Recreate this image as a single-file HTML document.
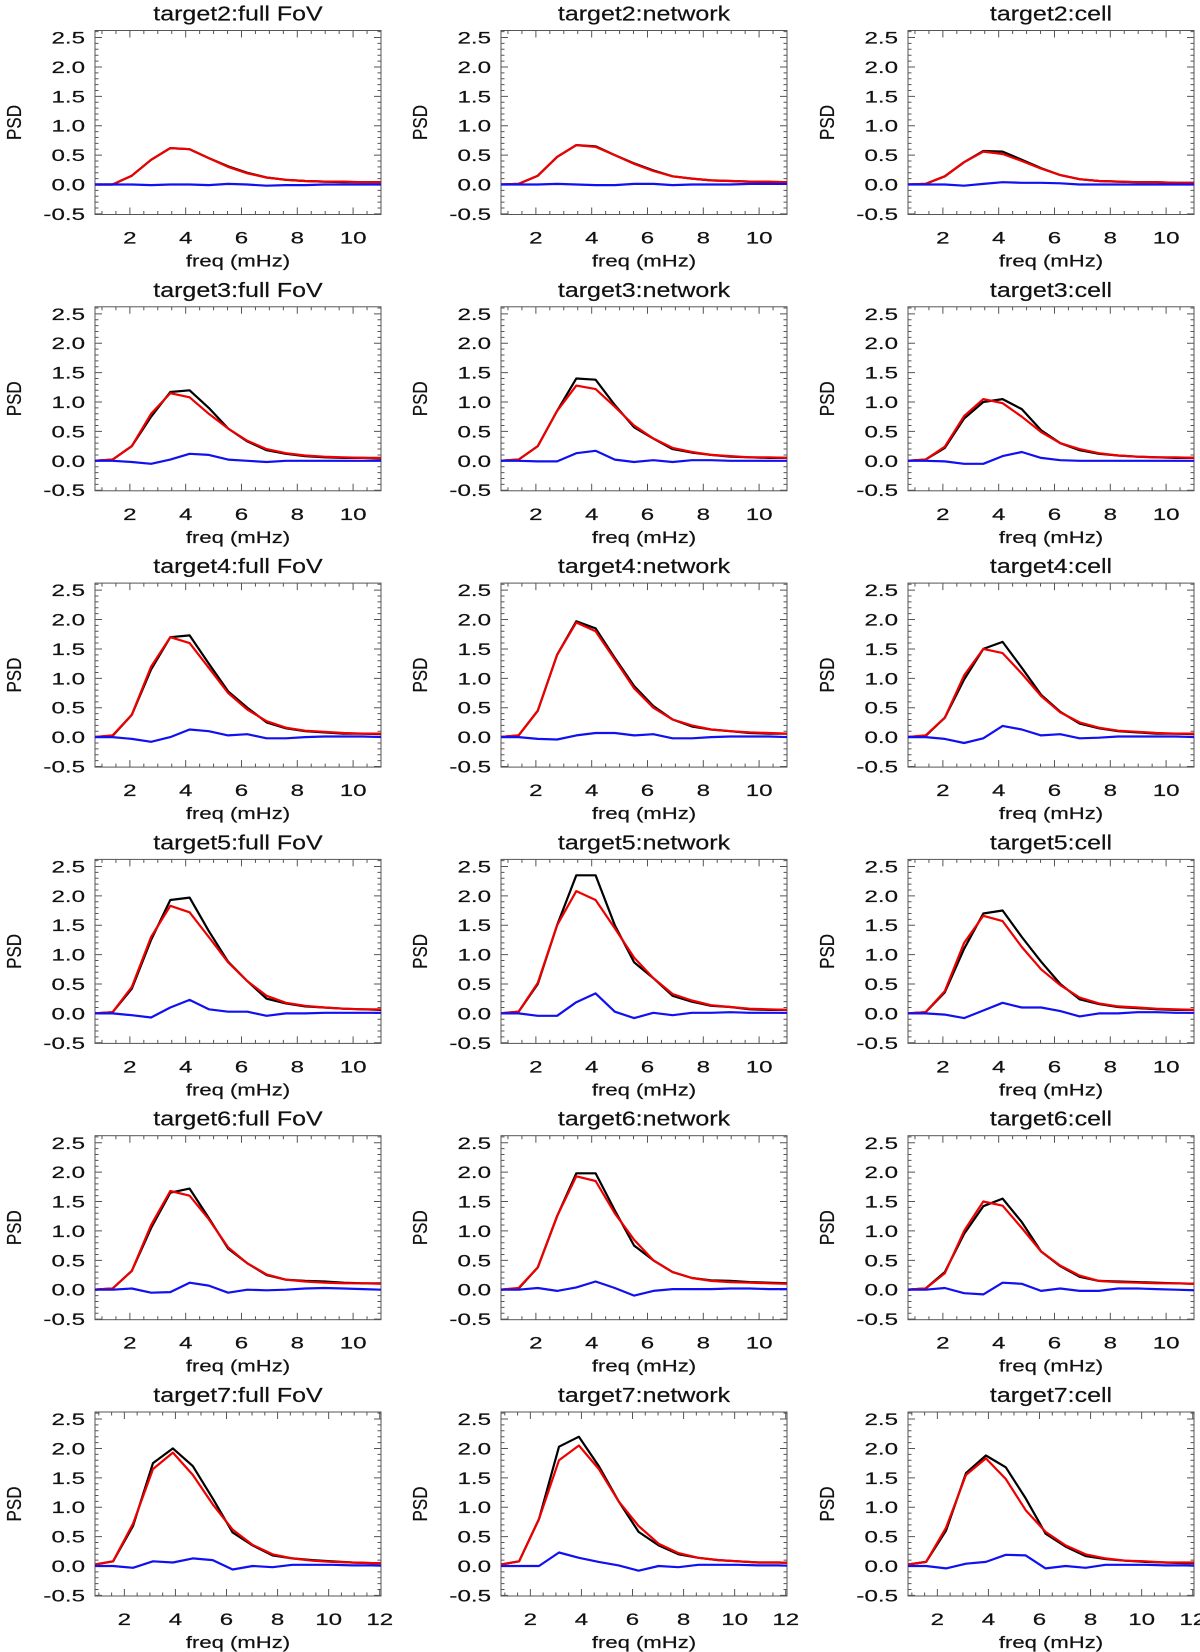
<!DOCTYPE html>
<html><head><meta charset="utf-8">
<style>
html,body{margin:0;padding:0;background:#fff;}
svg{display:block;}
text{font-family:"Liberation Sans",Arial,sans-serif;fill:#111;stroke:#111;stroke-width:0.2px;}
</style></head>
<body>
<svg id="chart" width="1200" height="1652" viewBox="0 0 1200 1652" xmlns="http://www.w3.org/2000/svg"></svg>
<script>
// ---- data ----
const panelTitles = [
 "target2:full FoV","target2:network","target2:cell",
 "target3:full FoV","target3:network","target3:cell",
 "target4:full FoV","target4:network","target4:cell",
 "target5:full FoV","target5:network","target5:cell",
 "target6:full FoV","target6:network","target6:cell",
 "target7:full FoV","target7:network","target7:cell"];
const freqStepRows1to6 = 0.69;
const freqStepRow7 = 0.78;
const yTickLabels = ["-0.5","0.0","0.5","1.0","1.5","2.0","2.5"];
const xTickLabelsA = ["2","4","6","8","10"];
const xTickLabelsB = ["2","4","6","8","10","12"];
const blackSeries = [
 [0,0,0.15,0.42,0.62,0.60,0.45,0.31,0.20,0.12,0.08,0.06,0.05,0.04,0.04,0.04,0.04],
 [0,0.01,0.15,0.47,0.67,0.65,0.5,0.36,0.24,0.14,0.1,0.07,0.06,0.05,0.04,0.04,0.04],
 [0,0.01,0.14,0.38,0.57,0.56,0.42,0.28,0.16,0.09,0.06,0.05,0.04,0.04,0.03,0.03,0.03],
 [0,0.02,0.25,0.75,1.17,1.2,0.9,0.55,0.33,0.18,0.12,0.08,0.06,0.05,0.05,0.04,0.04],
 [0,0.02,0.25,0.85,1.4,1.38,0.95,0.57,0.38,0.2,0.14,0.1,0.07,0.06,0.05,0.05,0.05],
 [0,0.02,0.22,0.72,1.0,1.05,0.88,0.52,0.3,0.18,0.12,0.09,0.07,0.06,0.05,0.05,0.04],
 [0,0.02,0.38,1.15,1.7,1.73,1.25,0.78,0.5,0.25,0.15,0.1,0.08,0.06,0.06,0.05,0.05],
 [0,0.03,0.45,1.4,1.97,1.85,1.35,0.87,0.53,0.3,0.18,0.13,0.1,0.07,0.06,0.06,0.06],
 [0,0.02,0.33,0.98,1.5,1.62,1.18,0.72,0.43,0.23,0.15,0.1,0.08,0.06,0.06,0.05,0.05],
 [0,0.02,0.42,1.25,1.93,1.97,1.4,0.88,0.55,0.25,0.17,0.12,0.1,0.08,0.07,0.06,0.06],
 [0,0.03,0.5,1.5,2.35,2.35,1.5,0.87,0.6,0.3,0.2,0.13,0.11,0.07,0.06,0.06,0.06],
 [0,0.02,0.36,1.1,1.7,1.75,1.3,0.88,0.5,0.24,0.16,0.11,0.09,0.07,0.06,0.06,0.05],
 [0,0.02,0.32,1.05,1.65,1.72,1.22,0.7,0.45,0.25,0.17,0.15,0.14,0.12,0.11,0.11,0.1],
 [0,0.02,0.38,1.25,1.98,1.98,1.35,0.75,0.5,0.3,0.2,0.16,0.15,0.13,0.12,0.11,0.1],
 [0,0.02,0.3,0.95,1.42,1.55,1.15,0.65,0.4,0.22,0.15,0.14,0.13,0.12,0.11,0.1,0.09],
 [0.02,0.08,0.68,1.75,2.0,1.7,1.15,0.57,0.35,0.18,0.13,0.1,0.08,0.06,0.05,0.05],
 [0.02,0.08,0.8,2.03,2.2,1.7,1.1,0.58,0.35,0.2,0.14,0.1,0.08,0.06,0.06,0.05],
 [0.02,0.07,0.6,1.58,1.88,1.68,1.15,0.55,0.33,0.17,0.12,0.09,0.07,0.06,0.05,0.05]];
const redSeries = [
 [0,0,0.15,0.42,0.62,0.60,0.45,0.30,0.19,0.12,0.08,0.06,0.05,0.05,0.04,0.04,0.04],
 [0,0.01,0.15,0.47,0.67,0.64,0.5,0.35,0.23,0.14,0.1,0.07,0.06,0.05,0.05,0.04,0.04],
 [0,0.01,0.14,0.38,0.56,0.52,0.4,0.27,0.16,0.09,0.06,0.05,0.04,0.04,0.03,0.03,0.03],
 [0,0.02,0.25,0.8,1.15,1.08,0.8,0.55,0.34,0.2,0.13,0.09,0.07,0.06,0.05,0.05,0.05],
 [0,0.02,0.25,0.85,1.28,1.22,0.92,0.6,0.38,0.22,0.15,0.1,0.08,0.06,0.06,0.05,0.05],
 [0,0.02,0.24,0.76,1.05,0.98,0.75,0.49,0.3,0.2,0.13,0.09,0.07,0.06,0.06,0.05,0.05],
 [0,0.03,0.38,1.2,1.7,1.6,1.18,0.75,0.47,0.27,0.16,0.11,0.09,0.07,0.06,0.06,0.06],
 [0,0.03,0.45,1.4,1.95,1.8,1.32,0.83,0.5,0.3,0.2,0.13,0.1,0.08,0.07,0.06,0.06],
 [0,0.03,0.33,1.05,1.5,1.43,1.08,0.7,0.42,0.25,0.16,0.11,0.09,0.07,0.06,0.06,0.06],
 [0,0.02,0.45,1.3,1.83,1.72,1.3,0.87,0.55,0.3,0.18,0.13,0.1,0.08,0.07,0.07,0.06],
 [0,0.03,0.52,1.5,2.08,1.93,1.45,0.95,0.6,0.33,0.22,0.14,0.11,0.08,0.07,0.06,0.06],
 [0,0.02,0.38,1.2,1.66,1.57,1.13,0.75,0.48,0.27,0.17,0.12,0.1,0.08,0.07,0.06,0.06],
 [0,0.02,0.32,1.1,1.68,1.6,1.2,0.72,0.45,0.26,0.17,0.14,0.12,0.11,0.11,0.1,0.1],
 [0,0.03,0.38,1.25,1.93,1.85,1.3,0.85,0.5,0.3,0.2,0.15,0.13,0.12,0.11,0.1,0.1],
 [0,0.02,0.28,1.0,1.5,1.43,1.05,0.65,0.41,0.24,0.15,0.13,0.12,0.11,0.11,0.1,0.1],
 [0.02,0.08,0.72,1.65,1.93,1.55,1.05,0.62,0.36,0.2,0.13,0.09,0.07,0.06,0.05,0.05],
 [0.02,0.08,0.8,1.8,2.05,1.65,1.1,0.68,0.38,0.22,0.14,0.1,0.08,0.06,0.06,0.05],
 [0.02,0.07,0.65,1.55,1.83,1.48,0.95,0.58,0.35,0.2,0.13,0.09,0.08,0.06,0.06,0.06]];
const blueSeries = [
 [0,0,0,-0.01,0,0,-0.01,0.01,0,-0.02,-0.01,-0.01,0,0,0,0,0],
 [0,0,0,0.01,0,-0.01,-0.01,0.01,0.01,-0.01,0,0,0,0.01,0.01,0.01,0.01],
 [0,0,0,-0.02,0.01,0.04,0.03,0.03,0.02,0,0,0,0,0,0,0,0],
 [0,0,-0.02,-0.05,0.02,0.12,0.1,0.02,0,-0.02,0,0,0,0,0,0,0],
 [0,0,-0.01,-0.01,0.13,0.17,0.02,-0.02,0.01,-0.02,0.01,0.01,0,0,0,0,0],
 [0,0,-0.01,-0.05,-0.05,0.08,0.15,0.05,0.01,0,0,0,0,0,0,0,0],
 [0,0,-0.03,-0.08,0,0.13,0.1,0.03,0.05,-0.02,-0.02,0,0.01,0.01,0.01,0,0],
 [0,0,-0.03,-0.04,0.03,0.07,0.07,0.03,0.05,-0.02,-0.02,0,0.01,0.01,0.01,0,0],
 [0,0,-0.03,-0.1,-0.02,0.19,0.13,0.03,0.05,-0.02,-0.01,0.01,0.01,0.01,0.01,0,0],
 [0,0,-0.03,-0.07,0.1,0.23,0.07,0.03,0.03,-0.04,0,0,0.01,0.01,0.01,0.01,0.01],
 [0,0,-0.04,-0.04,0.19,0.34,0.03,-0.08,0.01,-0.03,0.01,0.01,0.02,0.01,0.01,0.01,0.01],
 [0,0,-0.02,-0.08,0.05,0.18,0.1,0.1,0.04,-0.05,0,0,0.02,0.02,0.01,0.01,0.01],
 [0,0,0.02,-0.05,-0.04,0.12,0.07,-0.05,0,-0.01,0,0.02,0.03,0.02,0.01,0,-0.02],
 [0,0,0.03,-0.02,0.04,0.14,0.03,-0.1,-0.02,0.01,0.01,0.01,0.02,0.02,0.01,0.01,-0.01],
 [0,0,0.03,-0.06,-0.08,0.12,0.1,-0.02,0.02,-0.02,-0.02,0.02,0.02,0.01,0,-0.01,-0.02],
 [0,0,-0.03,0.08,0.06,0.13,0.1,-0.06,0,-0.02,0.02,0.02,0.02,0.01,0.01,0],
 [0,0,0,0.23,0.14,0.07,0.01,-0.08,0,-0.02,0.02,0.02,0.02,0.01,0.01,0],
 [0,0,-0.04,0.04,0.07,0.19,0.18,-0.04,0,-0.03,0.02,0.02,0.02,0.01,0.01,0]];

// ---- layout ----
const NS="http://www.w3.org/2000/svg";
const svg=document.getElementById('chart');
const colX=[95,501,908], rowY0=30.5, rowStep=276.3, W=286, H=184;
const yMin=-0.51, yMax=2.62;
function mk(tag,attrs,parent){const e=document.createElementNS(NS,tag);for(const k in attrs)e.setAttribute(k,attrs[k]);(parent||svg).appendChild(e);return e;}
function stxt(parent,x,y,s,size,anchor,sx){
  return mk('text',{x:0,y:0,'text-anchor':anchor,'font-size':size,transform:`translate(${x},${y}) scale(${sx},1)`},parent);
}

for(let p=0;p<18;p++){
  const r=Math.floor(p/3), c=p%3;
  const x0=colX[c], y0=rowY0+r*rowStep;
  const last = r===5;
  const xMin = last?0.85:0.75, xMax = last?12.05:11.0;
  const step = last?freqStepRow7:freqStepRows1to6;
  const xt = last?xTickLabelsB:xTickLabelsA;
  const sx=v=>x0+(v-xMin)/(xMax-xMin)*W;
  const sy=v=>y0+(yMax-v)/(yMax-yMin)*H;
  const g=mk('g',{});
  
  
  const cp=mk('clipPath',{id:'cp'+p},g);
  mk('rect',{x:x0,y:y0,width:W,height:H},cp);
  const t=stxt(g,x0+W/2,y0-10,'',20,'middle',1.25);
  t.textContent=panelTitles[p];
  
  
  const fr=mk('rect',{x:x0,y:y0,width:W,height:H,fill:'none',stroke:'#555','stroke-width':1},g);
  
  
  let tk='';
  for(let i=-5;i<=26;i++){const v=i/10;const yy=sy(v);if(yy<y0||yy>y0+H)continue;const L=(i%5===0)?7:3.5;
    tk+=`M${x0},${yy}h${L}M${x0+W},${yy}h${-L}`;}
  for(let i=2;i<=24;i++){const v=i/2;const xx=sx(v);if(xx<x0||xx>x0+W)continue;const L=(i%4===0)?7:3.5;
    tk+=`M${xx},${y0+H}v${-L}M${xx},${y0}v${L}`;}
  const tp=mk('path',{d:tk,stroke:'#555','stroke-width':1,fill:'none'},g);
  
  
  yTickLabels.forEach(s=>{const v=parseFloat(s);const e=stxt(g,x0-10,sy(v)+6,'',17,'end',1.42);e.textContent=s;
    
    });
  xt.forEach(s=>{const v=parseFloat(s);const e=stxt(g,sx(v),y0+H+29,'',17,'middle',1.42);e.textContent=s;
    
    });
  const xl=stxt(g,x0+W/2,y0+H+52,'',17,'middle',1.3);xl.textContent='freq (mHz)';
  
  
  const yl=mk('text',{x:0,y:0,'text-anchor':'middle','font-size':20,transform:`translate(${x0-74},${y0+H/2}) rotate(-90) scale(0.85,1)`},g);yl.textContent='PSD';
  
  
  const series=[[blackSeries[p],'#000','black-psd-line'],[redSeries[p],'#e00','red-psd-line'],[blueSeries[p],'#1010f0','blue-difference-line']];
  series.forEach(([arr,col,nm])=>{
    const d=arr.map((v,k)=>(k?'L':'M')+sx((k+1)*step).toFixed(1)+','+sy(v).toFixed(1)).join('');
    const pl=mk('path',{d:d,fill:'none',stroke:col,'stroke-width':2.2,'stroke-linejoin':'round','clip-path':`url(#cp${p})`},g);
    
    
  });
}
</script>
</body></html>
